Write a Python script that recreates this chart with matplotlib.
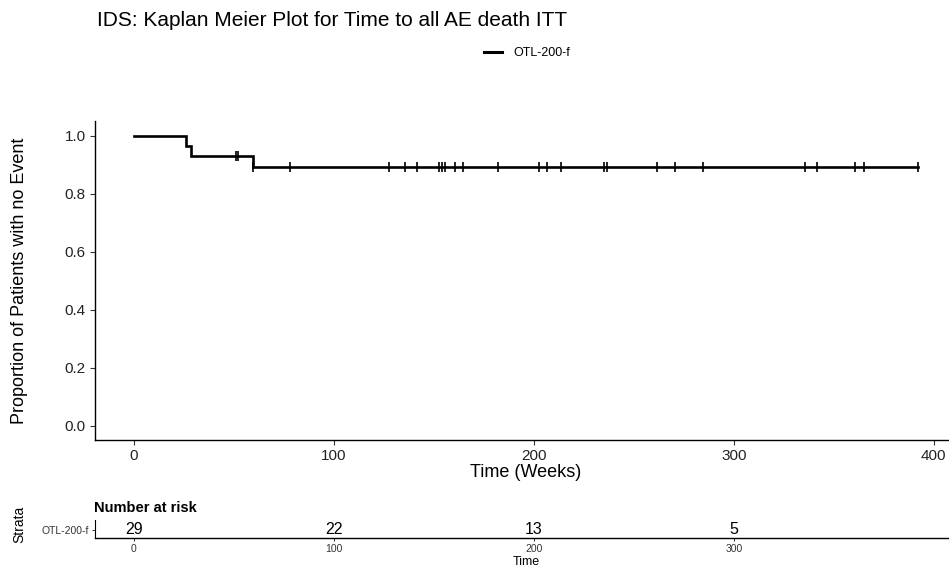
import numpy as np
import matplotlib
matplotlib.use('Agg')
import matplotlib.pyplot as plt
from matplotlib.lines import Line2D

plt.rcParams['font.family'] = ['Liberation Sans', 'DejaVu Sans']

# data (weeks)
GROUP = 'OTL-200-f'
EVENT_TIMES = [25.8, 28.3, 59.7]
CENSOR_TIMES = [51.0, 52.0, 59.7, 78.0, 127.5, 135.5, 141.5, 152.7, 154.2,
                155.5, 160.7, 164.7, 181.8, 202.7, 206.7, 213.8, 235.0,
                236.7, 261.5, 270.5, 284.5, 335.7, 341.5, 360.7, 365.3, 392.2]
RISK_TIMES = [0, 100, 200, 300]
RISK_COUNTS = [29, 22, 13, 5]

TITLE = 'IDS: Kaplan Meier Plot for Time to all AE death ITT'


def kaplan_meier(events, censors):
    """returns step times and survival values"""
    n_total = len(events) + len(censors)
    times = [0.0]
    surv = [1.0]
    cur = 1.0
    for t_val in sorted(set(events)):
        removed_before = sum(1 for c in censors if c < t_val) + \
            sum(1 for e in events if e < t_val)
        at_risk = n_total - removed_before
        d_num = events.count(t_val)
        cur = cur*(at_risk - d_num)/at_risk
        times.append(t_val)
        surv.append(cur)
    times.append(max(events + censors))
    surv.append(cur)
    return np.array(times), np.array(surv)


def surv_at(times, surv, t_val):
    idx = np.searchsorted(times, t_val, side='right') - 1
    return surv[idx]


W, H = 949, 571
fig = plt.figure(figsize=(W/100, H/100), dpi=100)

XLIM = (-19.6, 411.6)
ax_left = 94.8/W
ax_width = (957 - 94.8)/W
ax = fig.add_axes([ax_left, 1 - 440/H, ax_width, (440 - 121.5)/H])

km_t, km_s = kaplan_meier(EVENT_TIMES, CENSOR_TIMES)
ax.step(km_t, km_s, where='post', color='black', lw=1.9,
        solid_joinstyle='miter')
cens_y = [surv_at(km_t, km_s, c) for c in CENSOR_TIMES]
ax.plot(CENSOR_TIMES, cens_y, ls='none', marker='|', ms=7, mew=1.2,
        color='black')

ax.set_xlim(*XLIM)
ax.set_ylim(-0.05, 1.05)
ax.set_xticks([0, 100, 200, 300, 400])
ax.set_yticks([0.0, 0.2, 0.4, 0.6, 0.8, 1.0])
ax.set_yticklabels(['0.0', '0.2', '0.4', '0.6', '0.8', '1.0'])
for side in ['top', 'right']:
    ax.spines[side].set_visible(False)
for side in ['left', 'bottom']:
    ax.spines[side].set_linewidth(1.0)
    ax.spines[side].set_color('black')
ax.tick_params(length=3.5, width=0.8, color='#333333', labelsize=11,
               labelcolor='#222222', pad=3)
ax.set_xlabel('Time (Weeks)', fontsize=13, labelpad=1)
fig.text(20/W, 1 - 281/H, 'Proportion of Patients with no Event',
         fontsize=13, rotation=90, ha='center', va='center')

fig.text(97/W, 1 - 21/H, TITLE, fontsize=15, va='center', ha='left')

handle = Line2D([], [], color='black', lw=2.2)
fig.legend([handle], [GROUP], loc='center', bbox_to_anchor=(527/W, 1 - 53/H),
           frameon=False, fontsize=9, handlelength=1.4, handletextpad=0.9)

# risk table
rt = fig.add_axes([ax_left, 1 - 538/H, ax_width, 18/H])
for t_val, n_val in zip(RISK_TIMES, RISK_COUNTS):
    rt.text(t_val, 0.5, str(n_val), ha='center', va='center', fontsize=11.5)
rt.set_xlim(*XLIM)
rt.set_ylim(0, 1)
rt.set_xticks(RISK_TIMES)
rt.set_yticks([0.45])
rt.set_yticklabels([GROUP])
for side in ['top', 'right']:
    rt.spines[side].set_visible(False)
rt.spines['bottom'].set_linewidth(1.0)
rt.spines['left'].set_linewidth(0.8)
rt.tick_params(length=2.5, width=0.7, color='#333333', labelsize=7.5,
               labelcolor='#333333', pad=2)
rt.set_xlabel('Time', fontsize=9, labelpad=1)
fig.text(19/W, 1 - 524/H, 'Strata', fontsize=10, rotation=90,
         ha='center', va='center')
fig.text(94/W, 1 - 508/H, 'Number at risk', fontsize=10.5,
         fontweight='bold', va='center', ha='left')

fig.savefig('out.png', dpi=100)
